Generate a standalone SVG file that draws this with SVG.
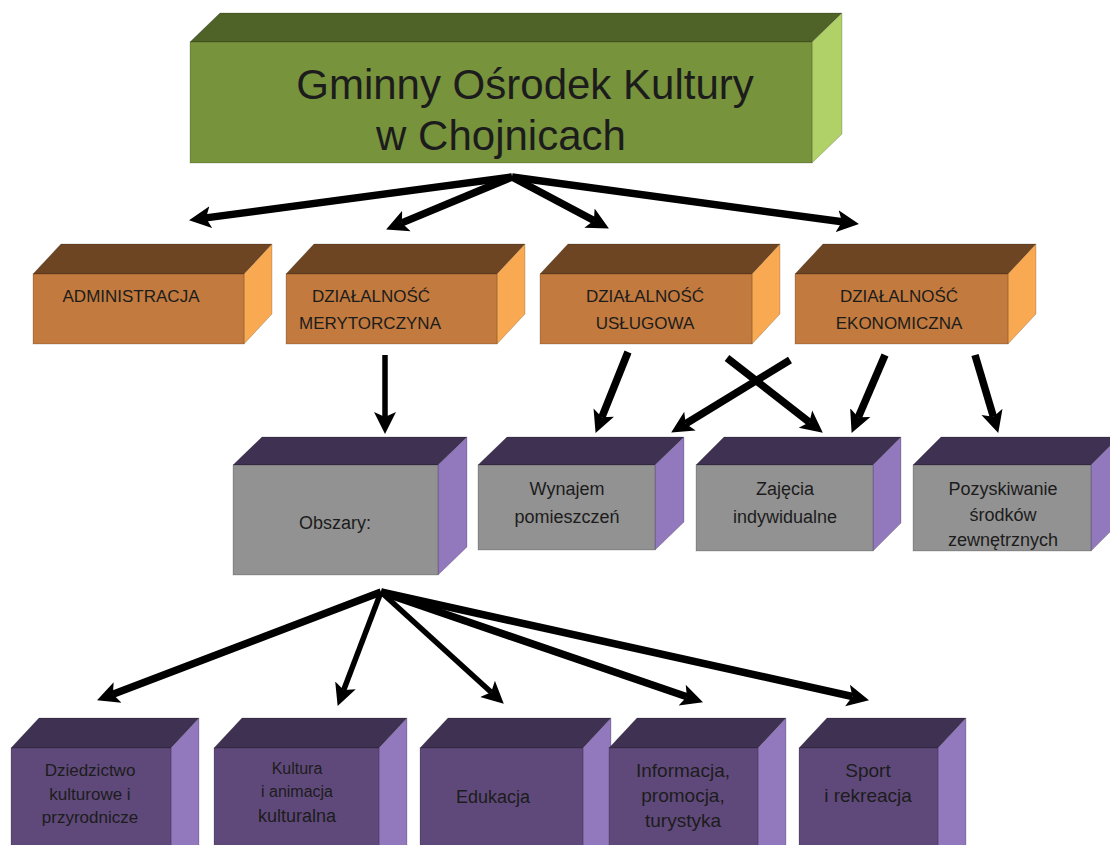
<svg xmlns="http://www.w3.org/2000/svg" width="1110" height="845" viewBox="0 0 1110 845">
<style>
text{font-family:"Liberation Sans",Arial,sans-serif;fill:#1c1c1c;text-anchor:middle}
.gF{fill:#77933C}.gT{fill:#4F6228}.gR{fill:#B0D068}
.oF{fill:#C27A3E}.oT{fill:#6E4522}.oR{fill:#F8A952}
.pT{fill:#3F3151}.pR{fill:#9278BC}.gyF{fill:#929292}.pF{fill:#5F497A}
.e{stroke:#000;stroke-opacity:.18;stroke-width:1}
.t17{font-size:17px}.t18{font-size:18px}
.arr{stroke:#000;stroke-width:7.5;fill:none;marker-end:url(#ah)}
.arr5{stroke:#000;stroke-width:5.5;fill:none;marker-end:url(#ah)}
</style>
<defs>
<marker id="ah" markerUnits="userSpaceOnUse" markerWidth="24" markerHeight="24" refX="5" refY="11" orient="auto" viewBox="0 0 24 22">
<path d="M0,0 L22,11 L0,22 L5,11 z" fill="#000"/>
</marker>
</defs>
<rect width="1110" height="845" fill="#fff"/>

<g id="gok">
<polygon class="gT e" points="190,42 220,13 842,13 812,42"/>
<polygon class="gR e" points="812,42 842,13 842,134 812,163"/>
<rect class="gF e" x="190" y="42" width="622" height="121"/>
<text x="525" y="99" style="font-size:42px">Gminny Ośrodek Kultury</text>
<text x="501" y="150" style="font-size:42px">w Chojnicach</text>
</g>

<g id="administracja">
<polygon class="oT e" points="33,274 61,244 272,244 244,274"/>
<polygon class="oR e" points="244,274 272,244 272,314 244,344"/>
<rect class="oF e" x="33" y="274" width="211" height="70"/>
<text class="t17" x="131" y="302">ADMINISTRACJA</text>
</g>
<g id="merytoryczna">
<polygon class="oT e" points="286,274 314,244 525,244 497,274"/>
<polygon class="oR e" points="497,274 525,244 525,314 497,344"/>
<rect class="oF e" x="286" y="274" width="211" height="70"/>
<text class="t17" x="371" y="302">DZIAŁALNOŚĆ</text>
<text class="t17" x="370" y="329">MERYTORCZYNA</text>
</g>
<g id="uslugowa">
<polygon class="oT e" points="540,274 568,244 780,244 752,274"/>
<polygon class="oR e" points="752,274 780,244 780,314 752,344"/>
<rect class="oF e" x="540" y="274" width="212" height="70"/>
<text class="t17" x="645" y="302">DZIAŁALNOŚĆ</text>
<text class="t17" x="645" y="329">USŁUGOWA</text>
</g>
<g id="ekonomiczna">
<polygon class="oT e" points="795,274 823,244 1036,244 1008,274"/>
<polygon class="oR e" points="1008,274 1036,244 1036,314 1008,344"/>
<rect class="oF e" x="795" y="274" width="213" height="70"/>
<text class="t17" x="899" y="302">DZIAŁALNOŚĆ</text>
<text class="t17" x="899" y="329">EKONOMICZNA</text>
</g>

<g id="obszary">
<polygon class="pT e" points="233,465 262,437 467,437 438,465"/>
<polygon class="pR e" points="438,465 467,437 467,547 438,575"/>
<rect class="gyF e" x="233" y="465" width="205" height="110"/>
<text class="t18" x="335" y="529">Obszary:</text>
</g>
<g id="wynajem">
<polygon class="pT e" points="478,465 507,437 684,437 655,465"/>
<polygon class="pR e" points="655,465 684,437 684,522 655,550"/>
<rect class="gyF e" x="478" y="465" width="177" height="85"/>
<text class="t18" x="567" y="495">Wynajem</text>
<text class="t18" x="567" y="523">pomieszczeń</text>
</g>
<g id="zajecia">
<polygon class="pT e" points="696,465 724,437 901,437 873,465"/>
<polygon class="pR e" points="873,465 901,437 901,523 873,551"/>
<rect class="gyF e" x="696" y="465" width="177" height="86"/>
<text class="t18" x="785" y="495">Zajęcia</text>
<text class="t18" x="785" y="523">indywidualne</text>
</g>
<g id="pozyskiwanie">
<polygon class="pT e" points="913,465 941,437 1119,437 1091,465"/>
<polygon class="pR e" points="1091,465 1119,437 1119,523 1091,551"/>
<rect class="gyF e" x="913" y="465" width="178" height="86"/>
<text class="t18" x="1003" y="495">Pozyskiwanie</text>
<text class="t18" x="1003" y="521">środków</text>
<text class="t18" x="1003" y="546">zewnętrznych</text>
</g>

<g id="dziedzictwo">
<polygon class="pT e" points="11,748 39,718 199,718 171,748"/>
<polygon class="pR e" points="171,748 199,718 199,850 171,860"/>
<rect class="pF e" x="11" y="748" width="160" height="112"/>
<text x="90" y="776" style="font-size:17px">Dziedzictwo</text>
<text x="90" y="800" style="font-size:17px">kulturowe i</text>
<text x="90" y="823" style="font-size:17px">przyrodnicze</text>
</g>
<g id="kultura">
<polygon class="pT e" points="214,748 242,718 407,718 379,748"/>
<polygon class="pR e" points="379,748 407,718 407,850 379,860"/>
<rect class="pF e" x="214" y="748" width="165" height="112"/>
<text x="297" y="774" style="font-size:16px">Kultura</text>
<text x="297" y="797" style="font-size:16px">i animacja</text>
<text x="297" y="822" style="font-size:18px">kulturalna</text>
</g>
<g id="edukacja">
<polygon class="pT e" points="420,748 448,718 611,718 583,748"/>
<polygon class="pR e" points="583,748 611,718 611,850 583,860"/>
<rect class="pF e" x="420" y="748" width="163" height="112"/>
<text x="493" y="803" style="font-size:18px">Edukacja</text>
</g>
<g id="informacja">
<polygon class="pT e" points="609,748 637,718 786,718 758,748"/>
<polygon class="pR e" points="758,748 786,718 786,850 758,860"/>
<rect class="pF e" x="609" y="748" width="149" height="112"/>
<text x="683" y="777" style="font-size:19px">Informacja,</text>
<text x="683" y="802" style="font-size:19px">promocja,</text>
<text x="683" y="827" style="font-size:19px">turystyka</text>
</g>
<g id="sport">
<polygon class="pT e" points="799,748 827,718 966,718 938,748"/>
<polygon class="pR e" points="938,748 966,718 966,850 938,860"/>
<rect class="pF e" x="799" y="748" width="139" height="112"/>
<text x="868" y="777" style="font-size:19px">Sport</text>
<text x="868" y="802" style="font-size:19px">i rekreacja</text>
</g>

<g id="connectors">
<line class="arr" x1="512" y1="177" x2="205.9" y2="217.9"/>
<line class="arr" x1="512" y1="177" x2="401.8" y2="222.9"/>
<line class="arr" x1="512" y1="177" x2="593.9" y2="220.5"/>
<line class="arr" x1="512" y1="177" x2="842.1" y2="221.8"/>

<line class="arr5" x1="385" y1="355" x2="385" y2="417"/>
<line class="arr" x1="628" y1="352" x2="601.9" y2="417.2"/>
<line class="arr" x1="727" y1="358" x2="809.4" y2="422.2"/>
<line class="arr" x1="790" y1="360" x2="685.7" y2="423.7"/>
<line class="arr" x1="885" y1="355" x2="858.3" y2="417.3"/>
<line class="arr" x1="975" y1="355" x2="993.4" y2="416.7"/>

<line class="arr" x1="381" y1="592" x2="112.9" y2="694.3"/>
<line class="arr5" x1="381" y1="592" x2="343.7" y2="690"/>
<line class="arr5" x1="381" y1="592" x2="491.2" y2="692.2"/>
<line class="arr" x1="381" y1="592" x2="686.9" y2="696.8"/>
<line class="arr" x1="381" y1="592" x2="852.4" y2="696.5"/>
</g>
</svg>
